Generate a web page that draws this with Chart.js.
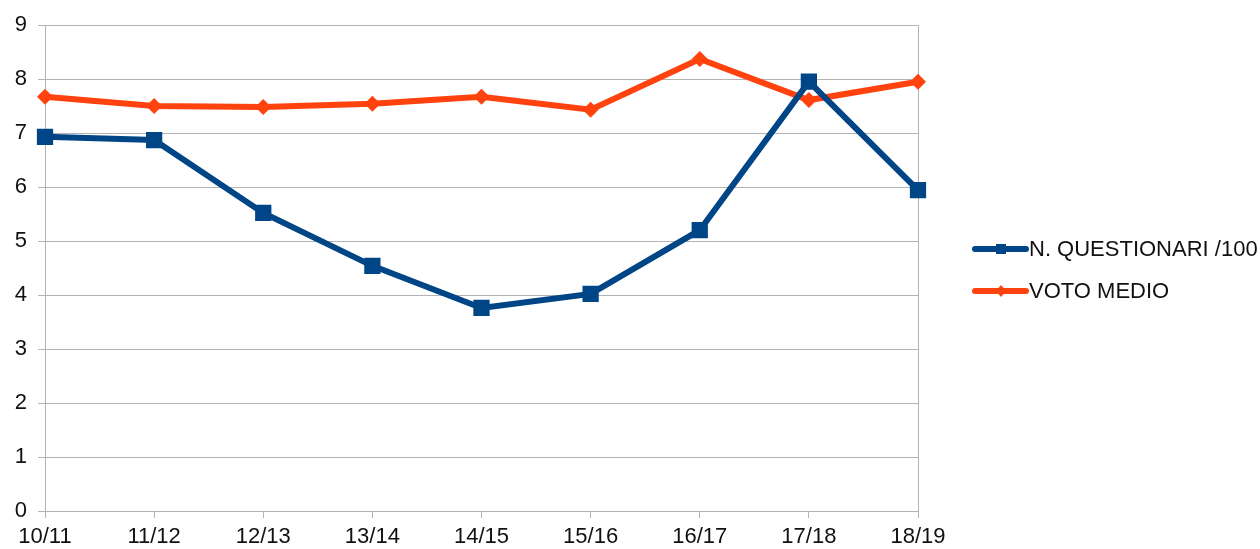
<!DOCTYPE html>
<html>
<head>
<meta charset="utf-8">
<script src="https://cdn.jsdelivr.net/npm/chart.js@4.4.1/dist/chart.umd.min.js"></script>
<style>
html,body{margin:0;padding:0;background:#fff;}
#wrap{width:1260px;height:549px;position:relative;}
</style>
</head>
<body>
<div id="wrap"><canvas id="c" width="1260" height="549"></canvas></div>
<script>
const categories = ["10/11","11/12","12/13","13/14","14/15","15/16","16/17","17/18","18/19"];
const questionari = [6.93, 6.87, 5.52, 4.54, 3.76, 4.02, 5.20, 7.95, 5.94];
const votoMedio = [7.67, 7.50, 7.48, 7.54, 7.67, 7.43, 8.37, 7.61, 7.95];
const seriesNames = ["N. QUESTIONARI /100", "VOTO MEDIO"];
const yTicks = [0,1,2,3,4,5,6,7,8,9];

const BLUE = "#004586";
const ORANGE = "#ff420e";
const GRID = "#b3b3b3";
const TEXT = "#111111";
const FONT = "'Liberation Sans', Arial, sans-serif";

const legendPlugin = {
  id: 'customLegend',
  afterDraw(chart) {
    const ctx = chart.ctx;
    const items = [
      {name: seriesNames[0], color: BLUE, style: 'rect', y: 249},
      {name: seriesNames[1], color: ORANGE, style: 'diamond', y: 291}
    ];
    ctx.save();
    items.forEach(it => {
      ctx.strokeStyle = it.color;
      ctx.fillStyle = it.color;
      ctx.lineWidth = 6;
      ctx.lineCap = 'round';
      ctx.beginPath();
      ctx.moveTo(975, it.y);
      ctx.lineTo(1026, it.y);
      ctx.stroke();
      ctx.beginPath();
      if (it.style === 'rect') {
        ctx.rect(996, it.y - 5, 10, 10);
      } else {
        ctx.moveTo(1001, it.y - 6);
        ctx.lineTo(1006, it.y);
        ctx.lineTo(1001, it.y + 6);
        ctx.lineTo(996, it.y);
        ctx.closePath();
      }
      ctx.fill();
      ctx.fillStyle = TEXT;
      ctx.font = "22px " + FONT;
      ctx.textBaseline = 'middle';
      ctx.textAlign = 'left';
      ctx.fillText(it.name, 1029, it.y + 1);
    });
    ctx.restore();
  }
};

new Chart(document.getElementById('c'), {
  type: 'line',
  data: {
    labels: categories,
    datasets: [
      {
        label: seriesNames[0],
        data: questionari,
        borderColor: BLUE,
        backgroundColor: BLUE,
        borderWidth: 6,
        pointStyle: 'rect',
        pointRadius: 11.5,
        pointBorderWidth: 0,
        pointHoverRadius: 11.5,
        tension: 0
      },
      {
        label: seriesNames[1],
        data: votoMedio,
        borderColor: ORANGE,
        backgroundColor: ORANGE,
        borderWidth: 6,
        pointStyle: 'rectRot',
        pointRadius: 8,
        pointBorderWidth: 0,
        pointHoverRadius: 8,
        tension: 0
      }
    ]
  },
  options: {
    responsive: false,
    animation: false,
    events: [],
    layout: { padding: { left: 0, right: 342, top: 25, bottom: 0 } },
    plugins: { legend: { display: false }, tooltip: { enabled: false } },
    scales: {
      x: {
        offset: false,
        grid: {
          drawOnChartArea: true,
          color: (c) => (c.index === categories.length - 1 ? GRID : 'rgba(0,0,0,0)'),
          tickColor: GRID,
          tickLength: 7,
          lineWidth: 1
        },
        border: { color: GRID, width: 1 },
        ticks: {
          color: TEXT,
          font: { family: FONT, size: 22 },
          padding: 6,
          maxRotation: 0,
          autoSkip: false
        },
        afterFit(scale) { scale.height = 38; }
      },
      y: {
        min: 0,
        max: 9,
        afterBuildTicks(scale) { scale.ticks = yTicks.map(v => ({value: v})); },
        grid: {
          color: GRID,
          tickColor: GRID,
          tickLength: 7,
          lineWidth: 1
        },
        border: { color: GRID, width: 1 },
        ticks: {
          color: TEXT,
          font: { family: FONT, size: 22 },
          padding: 11,
          stepSize: 1
        },
        afterFit(scale) { scale.width = 45; }
      }
    }
  },
  plugins: [legendPlugin]
});
</script>
</body>
</html>
